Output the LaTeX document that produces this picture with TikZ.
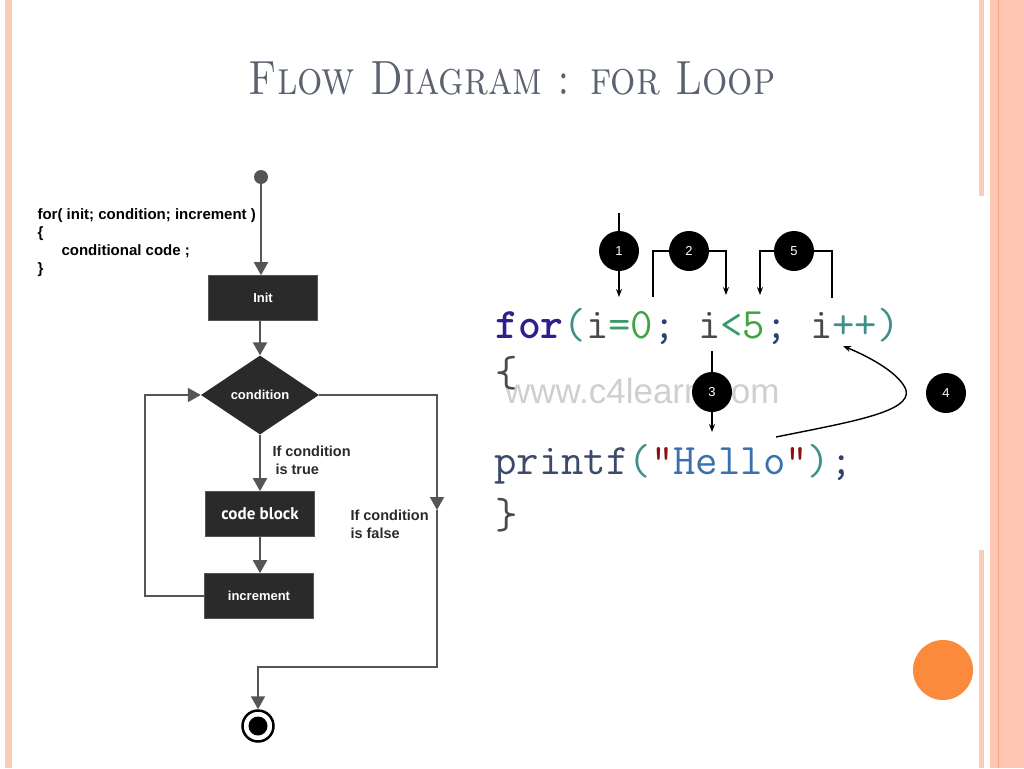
\documentclass[tikz,border=0pt]{standalone}
\usepackage{fontspec}
\setsansfont{Liberation Sans}
\newfontfamily\narrowsans{PT Sans}
\usetikzlibrary{arrows.meta}
\usetikzlibrary{shapes.geometric}

\definecolor{titlegray}{HTML}{5B6370}
\definecolor{boxdark}{HTML}{2A2A2A}
\definecolor{flowgray}{HTML}{555555}
\definecolor{kwnavy}{HTML}{2E1F8F}
\definecolor{parteal}{HTML}{3F8F8A}
\definecolor{numgreen}{HTML}{3FA53F}
\definecolor{opgreen}{HTML}{3A9A6A}
\definecolor{semislate}{HTML}{2F3F6F}
\definecolor{idgray}{HTML}{4A4A4A}
\definecolor{fnslate}{HTML}{3B4A68}
\definecolor{strred}{HTML}{8B1010}
\definecolor{strblue}{HTML}{3A6FB0}
\definecolor{markgray}{HTML}{CFCFCF}
\definecolor{deco}{HTML}{FDC6B0}
\definecolor{decoline}{HTML}{F5A47F}
\definecolor{decolight}{HTML}{F9CDB9}
\definecolor{dotorange}{HTML}{FB8A3C}

\begin{document}
\begin{tikzpicture}[x=1pt,y=-1pt,
    flow/.style={draw=flowgray,line width=2pt},
    flowtip/.style={flow,-{Triangle[length=13pt,width=14pt]}},
    stepbox/.style={rectangle,fill=boxdark,draw=flowgray,line width=0.6pt,minimum width=109pt,minimum height=45pt,text=white,font=\sffamily\bfseries\fontsize{13}{13}\selectfont},
    test/.style={diamond,fill=boxdark,minimum width=118pt,minimum height=79pt,inner sep=0pt,shape aspect=1.5,text=white,font=\sffamily\bfseries\fontsize{13}{13}\selectfont},
    note/.style={anchor=north west,align=left,text=boxdark,font=\sffamily\bfseries\fontsize{14.5}{18}\selectfont},
    code/.style={anchor=base west,inner sep=0pt,font=\ttfamily\fontsize{43.5}{43.5}\selectfont},
    badge/.style={circle,fill=black,minimum size=40pt,inner sep=0pt,text=white,font=\sffamily\fontsize{13}{13}\selectfont},
    callout/.style={draw=black,line width=1.4pt},
    callouttip/.style={callout,-{Stealth[length=8pt,width=6pt]}}]
\useasboundingbox (0,0) rectangle (1024,768);
\fill[white] (0,0) rectangle (1024,768);

% slide frame
\fill[decolight] (5,0) rectangle (12,768);
\fill[decolight] (979,0) rectangle (984,196);
\fill[decolight] (979,550) rectangle (984,768);
\fill[deco] (990,0) rectangle (1024,768);
\draw[decoline,line width=1pt] (998,0) -- (998,768);
\fill[dotorange] (943,670) circle (30);

% title
\node[text=titlegray,font=\fontsize{48}{48}\selectfont,xscale=0.83] (title) at (512,78) {\textsc{Flow Diagram : for Loop}};

% flow chart
\node[note,text=black,font=\sffamily\bfseries\fontsize{15}{18}\selectfont] (syntax) at (34,205) {for( init; condition; increment )\\ \{\\ \hspace*{24pt}conditional code ;\\ \}};
\node[circle,fill=flowgray,minimum size=14pt,inner sep=0pt] (start) at (261,177) {};
\node[stepbox] (init) at (263,298) {Init};
\node[test] (cond) at (260,395) {condition};
\node[stepbox,font=\narrowsans\bfseries\fontsize{17}{17}\selectfont] (body) at (260,514) {code block};
\node[stepbox] (incr) at (259,596) {increment};
\node[circle,draw=black,fill=white,line width=2.5pt,minimum size=31pt,inner sep=0pt] (stop) at (258,726) {};
\node[circle,fill=black,minimum size=19pt,inner sep=0pt] (stopdot) at (stop) {};
\coordinate (falsemid) at (437,510);
\coordinate (falseend) at (437,667);

\draw[flowtip] (start) -- (init.north -| start);
\draw[flowtip] (init.south -| cond) -- (cond.north);
\draw[flowtip] (cond.south) -- (body.north -| cond);
\draw[flowtip] (body.south -| cond) -- (incr.north -| cond);
\draw[flowtip] (incr.west) -- ++(-59,0) |- (cond.west);
\draw[flowtip] (cond.east) -| (falsemid);
\draw[flowtip] (falsemid) -- (falseend) -| (stop.north);
\node[note] (truelabel) at (269,442) {If condition\\ \hspace*{3pt}is true};
\node[note] (falselabel) at (347,506) {If condition\\ is false};

% code with callouts
\node[code,font=\sffamily\fontsize{35}{35}\selectfont,text=markgray] (mark) at (505,403) {www.c4learn.com};
\node[code] (forline) at (495,338) {\textcolor{kwnavy}{\textbf{for}}\textcolor{parteal}{(}\textcolor{idgray}{i}\textcolor{opgreen}{=}\textcolor{numgreen}{0}\textcolor{semislate}{;} \textcolor{idgray}{i}\textcolor{opgreen}{<}\textcolor{numgreen}{5}\textcolor{semislate}{;} \textcolor{idgray}{i}\textcolor{parteal}{++)}};
\node[code,text=idgray] (openbr) at (495,386) {\{};
\node[code] (printline) at (494,474) {\textcolor{fnslate}{printf}\textcolor{parteal}{(}\textcolor{strred}{"}\textcolor{strblue}{Hello}\textcolor{strred}{"}\textcolor{parteal}{)}\textcolor{semislate}{;}};
\node[code,text=idgray] (closebr) at (495,528) {\}};

\node[badge] (one) at (619,251) {1};
\node[badge] (two) at (689,251) {2};
\node[badge] (five) at (794,251) {5};
\node[badge] (three) at (712,392) {3};
\node[badge] (four) at (946,393) {4};

\coordinate (onetop) at (619,213);
\coordinate (onetip) at (619,297);
\coordinate (twoleft) at (653,297);
\coordinate (twotip) at (726,295);
\coordinate (fiveright) at (832,298);
\coordinate (fivetip) at (760,295);
\coordinate (threetop) at (712,351);
\coordinate (threetip) at (712,432);
\coordinate (loopstart) at (776,437);
\coordinate (looptip) at (843,346);

\draw[callout] (onetop) -- (one);
\draw[callouttip] (one) -- (onetip);
\draw[callout] (two.west) -| (twoleft);
\draw[callouttip] (two.east) -| (twotip);
\draw[callout] (five.east) -| (fiveright);
\draw[callouttip] (five.west) -| (fivetip);
\draw[callout] (threetop) -- (three);
\draw[callouttip] (three) -- (threetip);
\draw[callouttip] (loopstart) .. controls (850,422) and (912,412) .. (906,390) .. controls (900,374) and (872,358) .. (looptip);
\end{tikzpicture}
\end{document}
